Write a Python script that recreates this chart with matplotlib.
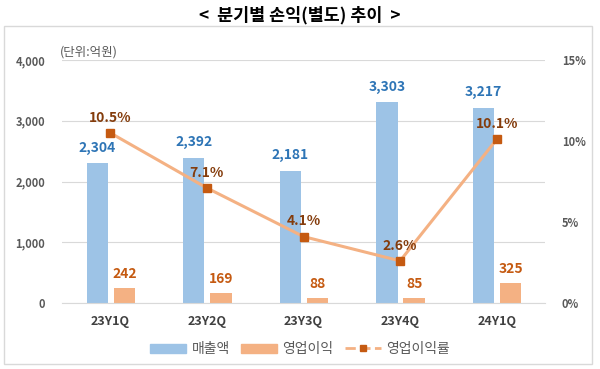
import matplotlib
matplotlib.use("Agg")
import matplotlib.pyplot as plt
from matplotlib.patches import Rectangle
from matplotlib.lines import Line2D

plt.rcParams['font.family'] = ['Noto Sans CJK KR', 'DejaVu Sans']

categories = ["23Y1Q", "23Y2Q", "23Y3Q", "23Y4Q", "24Y1Q"]
sales = [2304, 2392, 2181, 3303, 3217]
op_profit = [242, 169, 88, 85, 325]
op_margin = [10.5, 7.1, 4.1, 2.6, 10.1]
left_ticks = [0, 1000, 2000, 3000, 4000]
right_ticks = [0, 5, 10, 15]

blue = "#9DC3E6"
orange = "#F4B183"
marker_c = "#C55A11"
blue_txt = "#2E75B6"
orange_txt = "#C55A11"
pct_txt = "#843C0C"
tick_c = "#595959"

fig = plt.figure(figsize=(6.0, 3.69), dpi=100)
# outer border
fig.patches.append(Rectangle((4/600, 1-364/369), 588/600, 338/369, transform=fig.transFigure,
                             fill=False, edgecolor="#D9D9D9", linewidth=1.0))
fig.text(0.5, 1-15/369, "<  분기별 손익(별도) 추이  >", ha="center", va="center",
         fontsize=12.5, fontweight="bold", color="#000000")

ax = fig.add_axes([62/600, 1-303/369, 483/600, 243/369])
x = list(range(len(categories)))
w = 0.22
xb = [i - 0.135 for i in x]
xo = [i + 0.145 for i in x]
ax.bar(xb, sales, width=w, color=blue, zorder=2, label="매출액")
ax.bar(xo, op_profit, width=w, color=orange, zorder=2, label="영업이익")
ax.set_xlim(-0.5, 4.5)
ax.set_ylim(0, 4000)
ax.set_yticks(left_ticks)
ax.set_yticklabels([f"{v:,}" for v in left_ticks])
ax.set_xticks(x)
ax.set_xticklabels(categories)
ax.grid(axis="y", color="#D9D9D9", linewidth=0.8, zorder=0)
for s in ["top", "right", "left"]:
    ax.spines[s].set_visible(False)
ax.spines["bottom"].set_color("#D9D9D9")
ax.tick_params(axis="y", length=0, pad=12, labelsize=8, labelcolor=tick_c)
ax.tick_params(axis="x", length=0, pad=9, labelsize=9, labelcolor="#404040")
for lab in ax.get_yticklabels() + ax.get_xticklabels():
    lab.set_fontweight("bold")

for xi, v in zip(xb, sales):
    ax.annotate(f"{v:,}", (xi, v), xytext=(0, 6), textcoords="offset points",
                ha="center", va="bottom", fontsize=10, fontweight="bold", color=blue_txt)
for xi, v in zip(xo, op_profit):
    ax.annotate(f"{v:,}", (xi, v), xytext=(0, 5), textcoords="offset points",
                ha="center", va="bottom", fontsize=10, fontweight="bold", color=orange_txt)

ax2 = ax.twinx()
ax2.set_ylim(0, 15)
ax2.set_yticks(right_ticks)
ax2.set_yticklabels([f"{v}%" for v in right_ticks])
for s in ["top", "right", "left", "bottom"]:
    ax2.spines[s].set_visible(False)
ax2.tick_params(axis="y", length=0, pad=12, labelsize=8, labelcolor=tick_c)
for lab in ax2.get_yticklabels():
    lab.set_fontweight("bold")
ax2.plot(x, op_margin, color=orange, linewidth=2.2, marker="s", markersize=5.5,
         markerfacecolor=marker_c, markeredgecolor=marker_c, zorder=3)
for xi, v in zip(x, op_margin):
    ax2.annotate(f"{v}%", (xi, v), xytext=(0, 6), textcoords="offset points",
                 ha="center", va="bottom", fontsize=10, fontweight="bold", color=pct_txt)

fig.text(60/600, 1-52/369, "(단위:억원)", ha="left", va="center", fontsize=9, color=tick_c)

handles = [Rectangle((0, 0), 1, 1, color=blue), Rectangle((0, 0), 1, 1, color=orange),
           Line2D([0], [0], color=orange, linewidth=2, linestyle="--", marker="s", markersize=4,
                  markerfacecolor=marker_c, markeredgecolor=marker_c)]
fig.legend(handles, ["매출액", "영업이익", "영업이익률"], loc="center", bbox_to_anchor=(0.5, 1-349/369),
           ncol=3, frameon=False, fontsize=10, handlelength=2.6, handleheight=0.6,
           columnspacing=0.8, handletextpad=0.4, labelcolor="#595959")

fig.savefig("out.png", dpi=100)
